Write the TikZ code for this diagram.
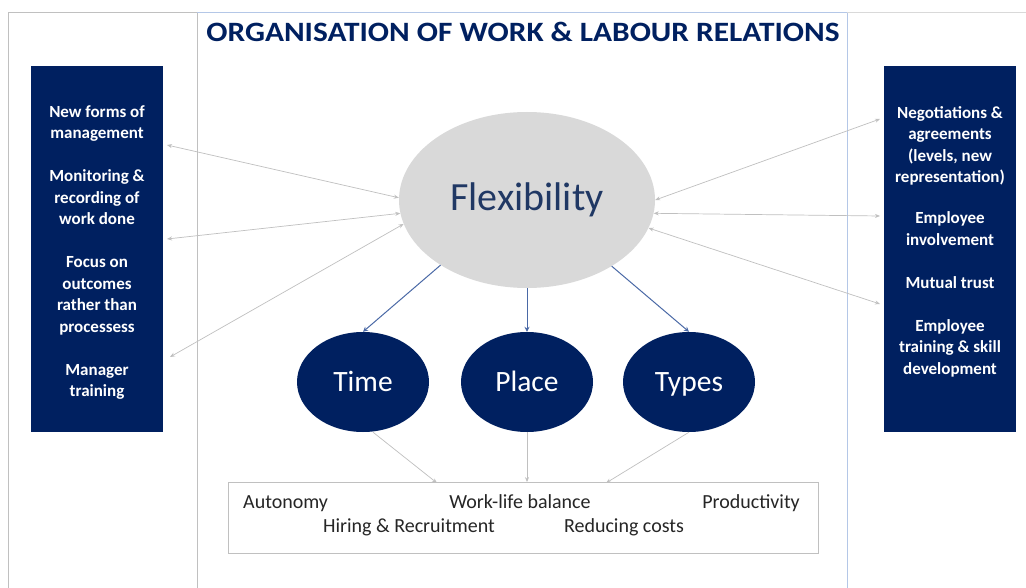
\documentclass[tikz,border=0pt]{standalone}
\usepackage{fontspec}
\setmainfont{Carlito}
\usetikzlibrary{arrows.meta,shapes.geometric}
\definecolor{navy}{HTML}{002060}
\definecolor{flextext}{HTML}{203864}
\definecolor{flexfill}{HTML}{D9D9D9}
\definecolor{linegrey}{HTML}{C0C0C0}
\definecolor{frameblue}{HTML}{B4C7E7}
\definecolor{arrowblue}{HTML}{4A69A6}
\definecolor{bottomtext}{HTML}{262626}
\tikzset{
  sidebox/.style={fill=navy, draw=none, minimum width=132pt, minimum height=366pt, inner sep=0pt},
  sidetext/.style={text=white, font=\fontsize{17}{21.5}\selectfont\bfseries, align=center, inner sep=0pt},
  subell/.style={ellipse, fill=navy, draw=none, minimum width=132pt, minimum height=100pt, inner sep=0pt, text=white, font=\fontsize{29.5}{30}\selectfont, text height=22pt, text depth=4pt},
  greyarrow/.style={draw=linegrey, line width=0.7pt, {Stealth[length=5pt,width=4pt]}-{Stealth[length=5pt,width=4pt]}},
  greyone/.style={draw=linegrey, line width=0.7pt, -{Stealth[length=5pt,width=4pt]}},
  bluearrow/.style={draw=arrowblue, line width=1pt, -{Stealth[length=5pt,width=5pt]}},
  btext/.style={text=bottomtext, font=\fontsize{20}{21}\selectfont, inner sep=0pt}
}
\begin{document}
\begin{tikzpicture}[x=1pt,y=-1pt]
\useasboundingbox[fill=white] (0,0) rectangle (1026,588);
% frame
\draw[linegrey, line width=0.8pt] (8,588) -- (8,12) -- (197,12);
\draw[linegrey, line width=0.8pt] (197,12) -- (197,588);
\draw[frameblue, line width=0.8pt] (197,12) -- (847,12);
\draw[frameblue, line width=0.8pt] (847,12) -- (847,588);
\draw[linegrey!60, line width=0.8pt] (847,12) -- (1026,12);
% title
\node[inner sep=0pt, text=navy] (title) at (523,32) {\fontsize{28}{30}\selectfont\bfseries\scalebox{1.12}[1]{ORGANISATION OF WORK \& LABOUR RELATIONS}};
% side boxes
\node[sidebox] (left) at (97,249) {};
\node[sidebox] (right) at (950,249) {};
\node[sidetext] (ltext) at (97,252.5) {New forms of\\management\\[21.5pt]Monitoring \&\\recording of\\work done\\[21.5pt]Focus on\\outcomes\\rather than\\processess\\[21.5pt]Manager\\training};
\node[sidetext] (rtext) at (950,241.5) {Negotiations \&\\agreements\\(levels, new\\representation)\\[19.5pt]Employee\\involvement\\[21.5pt]Mutual trust\\[21.5pt]Employee\\training \& skill\\development};
% flexibility
\node[ellipse, fill=flexfill, draw=none, minimum width=256pt, minimum height=176pt, inner sep=0pt, text=flextext, font=\fontsize{40}{42}\selectfont] (flex) at (527,200) {Flexibility};
% sub ellipses
\node[subell] (time) at (363,382) {Time};
\node[subell] (place) at (527,382) {Place};
\node[subell] (types) at (689,382) {Types};
% bottom box
\node[draw=linegrey, line width=0.8pt, fill=white, minimum width=590pt, minimum height=71pt, inner sep=0pt] (bottom) at (523,518) {};
\node[btext, anchor=base west] (auto) at (243,508) {Autonomy};
\node[btext, anchor=base] (wlb) at (520,508) {Work-life balance};
\node[btext, anchor=base east] (prod) at (800,508) {Productivity};
\node[btext, anchor=base] (hire) at (409,532) {Hiring \& Recruitment};
\node[btext, anchor=base] (cost) at (624,532) {Reducing costs};
% arrow endpoints at side boxes
\coordinate (l1) at (167,145);
\coordinate (l2) at (167,239);
\coordinate (l3) at (170,357);
\coordinate (r1) at (880,119);
\coordinate (r2) at (880,216);
\coordinate (r3) at (880,304);
\draw[greyarrow] (flex.179) -- (l1);
\draw[greyarrow] (flex.186) -- (l2);
\draw[greyarrow] (flex.191.5) -- (l3);
\draw[greyarrow] (flex.0) -- (r1);
\draw[greyarrow] (flex.354) -- (r2);
\draw[greyarrow] (flex.347.5) -- (r3);
% blue arrows
\draw[bluearrow] (flex.217) -- (time.north);
\draw[bluearrow] (flex.south) -- (place.north);
\draw[bluearrow] (flex.322) -- (types.north);
% grey arrows to bottom
\coordinate (b1) at (437,483);
\coordinate (b3) at (606,483);
\draw[greyone] ([xshift=10pt]time.south) -- (b1);
\draw[greyone] (place.south) -- (place.south |- bottom.north);
\draw[greyone] (types.south) -- (b3);
\end{tikzpicture}
\end{document}
